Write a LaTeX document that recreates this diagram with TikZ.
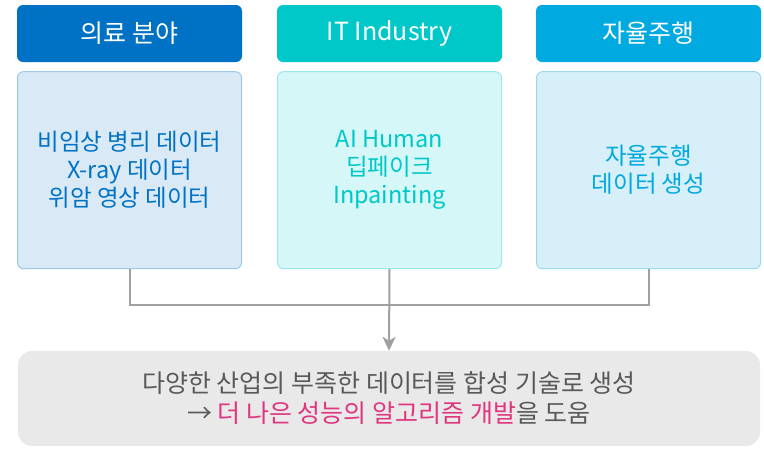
\documentclass[tikz,border=0pt]{standalone}
\usepackage{fontspec}
\setmainfont{Noto Sans CJK KR}
\usepackage{xcolor}
\usetikzlibrary{positioning,arrows.meta}

\definecolor{medblue}{RGB}{0,114,198}
\definecolor{itteal}{RGB}{0,200,200}
\definecolor{carblue}{RGB}{0,169,224}
\definecolor{medfill}{RGB}{217,233,246}
\definecolor{meddraw}{RGB}{156,200,234}
\definecolor{itfill}{RGB}{213,247,248}
\definecolor{itdraw}{RGB}{157,232,236}
\definecolor{carfill}{RGB}{214,239,248}
\definecolor{cardraw}{RGB}{154,216,239}
\definecolor{sumfill}{RGB}{233,233,233}
\definecolor{sumtext}{RGB}{89,89,89}
\definecolor{hilite}{RGB}{224,53,127}
\definecolor{linegray}{RGB}{160,160,160}

\tikzset{
  header/.style={rounded corners=6pt,minimum width=225pt,minimum height=57pt,
    text=white,font=\fontsize{25}{28}\selectfont,inner sep=0pt},
  content/.style={rounded corners=6pt,minimum width=224pt,minimum height=197pt,
    line width=1pt,align=center,font=\fontsize{23.5}{28}\selectfont,inner sep=0pt},
  conn/.style={draw=linegray,line width=2pt},
}

\begin{document}
\begin{tikzpicture}[x=1pt,y=-1pt,>={Stealth[length=14pt,width=13pt,inset=4pt]}]
  \useasboundingbox (0,0) rectangle (764,448);
  % field headers
  \node[header,fill=medblue] (medhead) at (129.5,33.5) {의료 분야};
  \node[header,fill=itteal] (ithead) at (389.5,33.5) {IT Industry};
  \node[header,fill=carblue] (carhead) at (648.5,33.5) {자율주행};
  % data boxes
  \node[content,fill=medfill,draw=meddraw,text=medblue,below=9pt of medhead] (med)
    {비임상 병리 데이터\\X-ray 데이터\\위암 영상 데이터};
  \node[content,fill=itfill,draw=itdraw,text=itteal,below=9pt of ithead] (it)
    {AI Human\\딥페이크\\Inpainting};
  \node[content,fill=carfill,draw=cardraw,text=carblue,below=9pt of carhead] (car)
    {자율주행\\데이터 생성};
  % summary
  \node[fill=sumfill,rounded corners=14pt,minimum width=742pt,minimum height=95pt,
    align=center,text=sumtext,font=\fontsize{25}{30}\selectfont,inner sep=0pt] (summary) at (389,398.5)
    {다양한 산업의 부족한 데이터를 합성 기술로 생성\\→ \textcolor{hilite}{더 나은 성능의 알고리즘 개발}을 도움};
  % connectors
  \coordinate (join) at (it.south |- 0,305);
  \draw[conn] (med.south) |- (join);
  \draw[conn] (car.south) |- (join);
  \draw[conn,->] (it.south) -- (summary.north);
\end{tikzpicture}
\end{document}
